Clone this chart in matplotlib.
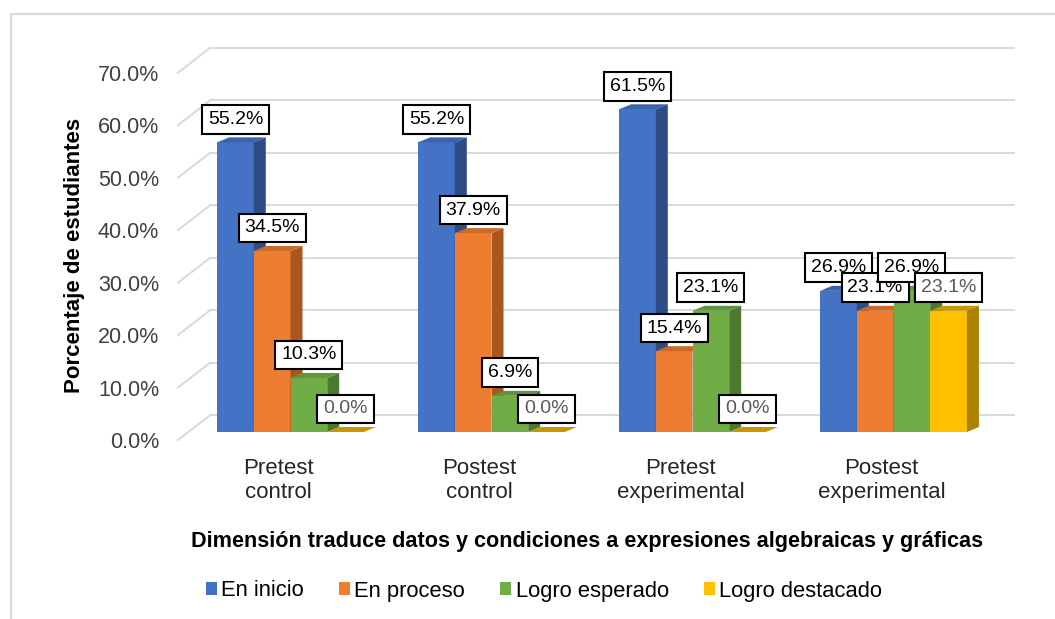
import matplotlib
matplotlib.use("Agg")
import matplotlib.pyplot as plt
from matplotlib.patches import Polygon, Rectangle
from matplotlib.transforms import offset_copy
import numpy as np

plt.rcParams['font.family'] = ['Liberation Sans', 'DejaVu Sans']

# ---- data ----
categories = ["Pretest\ncontrol", "Postest\ncontrol", "Pretest\nexperimental", "Postest\nexperimental"]
series_names = ["En inicio", "En proceso", "Logro esperado", "Logro destacado"]
en_inicio = [55.2, 55.2, 61.5, 26.9]
en_proceso = [34.5, 37.9, 15.4, 23.1]
logro_esperado = [10.3, 6.9, 23.1, 26.9]
logro_destacado = [0.0, 0.0, 0.0, 23.1]
y_ticks = [0, 10, 20, 30, 40, 50, 60, 70]
y_title = "Porcentaje de estudiantes"
x_title = "Dimensión traduce datos y condiciones a expresiones algebraicas y gráficas"

series_values = [en_inicio, en_proceso, logro_esperado, logro_destacado]

# face colours: front, side, top
front_colors = ["#4472C4", "#ED7D31", "#70AD47", "#FFC000"]
side_colors = ["#2E4D87", "#A9561F", "#4D7830", "#AB8200"]
top_colors = ["#3A63AE", "#CC6A28", "#5F953B", "#C99800"]
label_colors = ["#000000", "#000000", "#000000", "#595959"]

W, H, DPI = 1055, 619, 100
fig = plt.figure(figsize=(W / DPI, H / DPI), dpi=DPI)
fig.patch.set_facecolor("white")

# outer chart frame
fig.patches.append(Rectangle((11 / W, -0.05), 1.2, (H - 14) / H + 0.05,
                             transform=fig.transFigure, fill=False,
                             edgecolor="#D9D9D9", linewidth=1.5, zorder=0))

# front plane of the floor / side wall, in pixels
AX_L, AX_R = 178.0, 982.0
AX_B, AX_T = 440.0, 72.7
ax = fig.add_axes([AX_L / W, 1 - AX_B / H, (AX_R - AX_L) / W, (AX_B - AX_T) / H])
ax.set_xlim(-0.5, 3.5)
ax.set_ylim(0, 70)
ax.set_facecolor("none")
for s in ax.spines.values():
    s.set_visible(False)

ux = 4.0 / (AX_R - AX_L)      # data units per pixel, horizontal
uy = 70.0 / (AX_B - AX_T)     # data units per pixel, vertical

# depth of the walls and of the bars (pixels)
WALL_DX, WALL_DY = 32.0, 24.7
BAR_SHIFT_X, BAR_SHIFT_Y = 12.0, 8.0
BAR_DX, BAR_DY = 12.0, 5.0
BAR_W = 36.7 * ux

grid_kw = dict(color="#D9D9D9", linewidth=1.4, clip_on=False, zorder=1)
for v in y_ticks:
    # back wall gridline
    ax.plot([-0.5 + WALL_DX * ux, 3.5 + WALL_DX * ux],
            [v + WALL_DY * uy, v + WALL_DY * uy], **grid_kw)
    # side wall diagonal
    ax.plot([-0.5, -0.5 + WALL_DX * ux], [v, v + WALL_DY * uy], **grid_kw)

bar_tr = offset_copy(ax.transData, fig=fig, x=BAR_SHIFT_X, y=BAR_SHIFT_Y, units="dots")

x = np.arange(len(categories))
n = len(series_values)
dx, dy = BAR_DX * ux, BAR_DY * uy
for j in range(len(categories)):
    for i, vals in enumerate(series_values):
        xc = x[j] + (i - (n - 1) / 2) * BAR_W
        v = vals[j]
        xl, xr = xc - BAR_W / 2, xc + BAR_W / 2
        z = 3 + j * 10 + i
        ax.bar(xc, v, BAR_W, color=front_colors[i], linewidth=0,
               transform=bar_tr, zorder=z, clip_on=False)
        side = Polygon([(xr, 0), (xr + dx, dy), (xr + dx, v + dy), (xr, v)],
                       closed=True, facecolor=side_colors[i], edgecolor="none",
                       transform=bar_tr, zorder=z, clip_on=False)
        top = Polygon([(xl, v), (xr, v), (xr + dx, v + dy), (xl + dx, v + dy)],
                      closed=True, facecolor=top_colors[i], edgecolor="none",
                      transform=bar_tr, zorder=z, clip_on=False)
        ax.add_patch(side)
        ax.add_patch(top)

# value labels
for i, vals in enumerate(series_values):
    for j, v in enumerate(vals):
        xc = x[j] + (i - (n - 1) / 2) * BAR_W
        ax.annotate(f"{v:.1f}%", xy=(xc, v), xycoords=bar_tr,
                    xytext=(0, 10.5), textcoords="offset points",
                    ha="center", va="bottom", fontsize=14,
                    color=label_colors[i], zorder=100 + i,
                    bbox=dict(boxstyle="square,pad=0.3", facecolor="white",
                              edgecolor="black", linewidth=1.5),
                    annotation_clip=False)

# axes labels
ax.set_yticks(y_ticks)
ax.set_yticklabels([f"{t:.1f}%" for t in y_ticks], fontsize=15.5, color="#404040")
ax.set_xticks(x)
ax.set_xticklabels(categories, fontsize=16, color="#262626", linespacing=1.2)
ax.tick_params(axis="y", length=0, pad=13.5)
ax.tick_params(axis="x", length=0, pad=13)

fig.text(75 / W, 1 - 255 / H, y_title, rotation=90, ha="center", va="center",
         fontsize=16, fontweight="bold", color="#000000")
fig.text(587 / W, 1 - 542 / H, x_title, ha="center", va="center",
         fontsize=15.6, fontweight="bold", color="#000000")

handles = [Rectangle((0, 0), 1, 1, facecolor=c, edgecolor="none") for c in front_colors]
fig.legend(handles, series_names, loc="center", bbox_to_anchor=(544 / W, 1 - 591 / H),
           ncol=4, frameon=False, fontsize=15.8, handlelength=0.5, handleheight=0.5,
           handletextpad=0.2, columnspacing=1.6, labelcolor="#000000")

fig.savefig("out.png", dpi=DPI, facecolor="white")
